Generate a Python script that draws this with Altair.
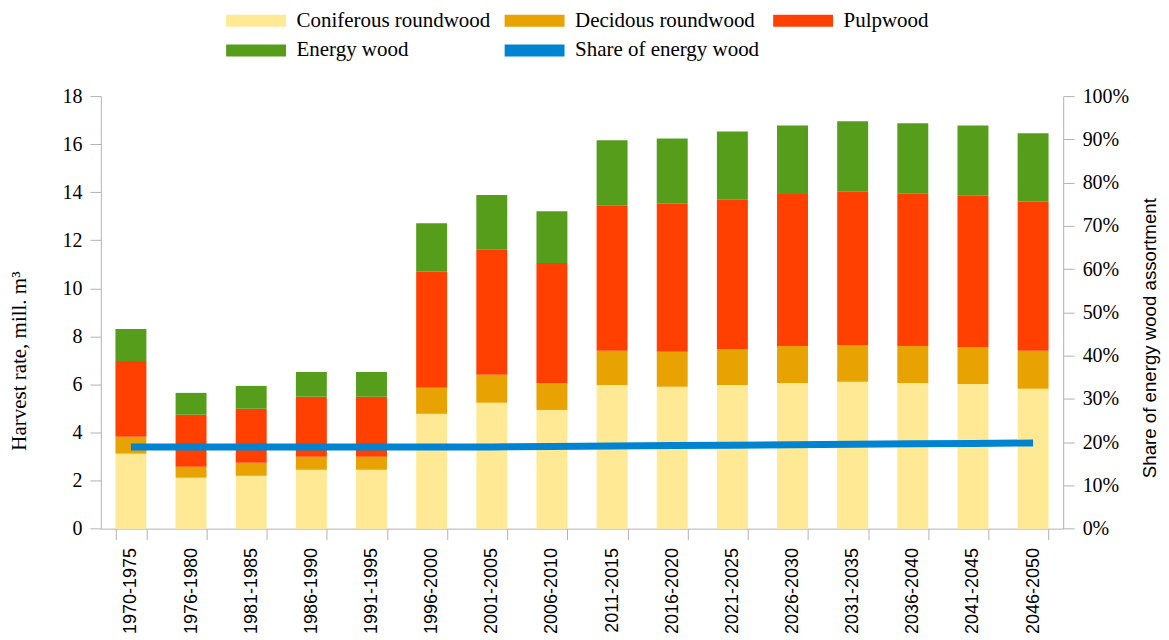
import altair as alt
import pandas as pd

periods = ["1970-1975", "1976-1980", "1981-1985", "1986-1990", "1991-1995",
           "1996-2000", "2001-2005", "2006-2010", "2011-2015", "2016-2020",
           "2021-2025", "2026-2030", "2031-2035", "2036-2040", "2041-2045",
           "2046-2050"]
coniferous = [3.12, 2.12, 2.20, 2.45, 2.45, 4.78, 5.24, 4.94, 5.98, 5.90, 5.98, 6.06, 6.11, 6.06, 6.02, 5.82]
decidous   = [0.70, 0.46, 0.54, 0.54, 0.54, 1.08, 1.16, 1.12, 1.42, 1.46, 1.50, 1.54, 1.53, 1.54, 1.54, 1.58]
pulpwood   = [3.16, 2.16, 2.25, 2.50, 2.50, 4.83, 5.23, 4.99, 6.06, 6.16, 6.23, 6.33, 6.40, 6.36, 6.31, 6.20]
energy     = [1.33, 0.91, 0.95, 1.03, 1.03, 2.02, 2.25, 2.16, 2.70, 2.72, 2.82, 2.85, 2.91, 2.91, 2.91, 2.85]
share      = [0.189, 0.189, 0.189, 0.189, 0.189, 0.189, 0.189, 0.190, 0.191, 0.192,
              0.193, 0.194, 0.195, 0.196, 0.197, 0.198]

series_names = ["Coniferous roundwood", "Decidous roundwood", "Pulpwood", "Energy wood"]
legend_names = series_names + ["Share of energy wood"]
colors = ["#FFE994", "#E8A202", "#FF4000", "#579D1C", "#0084D1"]

rows = []
for i, p in enumerate(periods):
    for k, (name, vals) in enumerate(zip(series_names, [coniferous, decidous, pulpwood, energy])):
        rows.append({"period": p, "series": name, "value": vals[i], "order": k})
bars_df = pd.DataFrame(rows)
line_df = pd.DataFrame({"period": periods, "share": share})

GREY = "#b3b3b3"

x_enc = alt.X(
    "period:N", sort=periods,
    scale=alt.Scale(paddingInner=0.4855, paddingOuter=0.24275),
    axis=alt.Axis(title=None, labelAngle=270, labelAlign="right", labelBaseline="middle",
                  labelFont="Liberation Sans", labelFontSize=18, labelColor="black",
                  labelPadding=8, tickBand="extent", tickSize=11, tickColor=GREY,
                  domainColor=GREY, labelOverlap=False),
)

bars = alt.Chart(bars_df).mark_bar().encode(
    x=x_enc,
    y=alt.Y("value:Q", stack="zero", scale=alt.Scale(domain=[0, 18], nice=False),
            axis=alt.Axis(values=list(range(0, 19, 2)), title="Harvest rate, mill. m³",
                          titleFont="Liberation Serif", titleFontSize=21, titleFontWeight="normal",
                          titleColor="black", titleAngle=270, titleX=-81, titleY=265,
                          titleAlign="center", titleBaseline="middle",
                          labelFont="Liberation Serif", labelFontSize=20, labelColor="black",
                          labelPadding=8, tickSize=11, tickColor=GREY, domainColor=GREY,
                          grid=False, labelOverlap=False)),
    color=alt.Color("series:N", scale=alt.Scale(domain=legend_names, range=colors),
                    legend=alt.Legend(title=None, orient="none", legendX=121, legendY=-86.2,
                                      columns=3, direction="horizontal",
                                      symbolType="M-1,-1L9,-1L9,1L-1,1Z",
                                      symbolSize=144, symbolStrokeWidth=0, symbolOpacity=1,
                                      labelFont="Liberation Serif", labelFontSize=21,
                                      labelColor="black", labelOffset=54, columnPadding=9,
                                      rowPadding=8, padding=0, labelLimit=0)),
    order=alt.Order("order:Q", sort="ascending"),
)

line = alt.Chart(line_df).mark_line(color="#0084D1", strokeWidth=7, strokeCap="butt").encode(
    x=x_enc,
    y=alt.Y("share:Q", scale=alt.Scale(domain=[0, 1], nice=False),
            axis=alt.Axis(orient="right", format=".0%", values=[i / 10 for i in range(11)],
                          title="Share of energy wood assortment",
                          titleFont="Liberation Sans", titleFontSize=18.7, titleFontWeight="normal",
                          titleColor="black", titleAngle=270, titleX=86.5, titleY=242,
                          titleAlign="center", titleBaseline="middle",
                          labelFont="Liberation Serif", labelFontSize=20, labelColor="black",
                          labelPadding=8, tickSize=11, tickColor=GREY, domainColor=GREY,
                          grid=False, labelOverlap=False)),
)

chart = alt.layer(bars, line).resolve_scale(y="independent").properties(
    width=964, height=433.3,
    autosize=alt.AutoSizeParams(type="none"),
    padding={"left": 93, "top": 87.7, "right": 98, "bottom": 108},
).configure_view(stroke=None)

chart.save("out.html", embed_options={"renderer": "svg", "actions": False})
